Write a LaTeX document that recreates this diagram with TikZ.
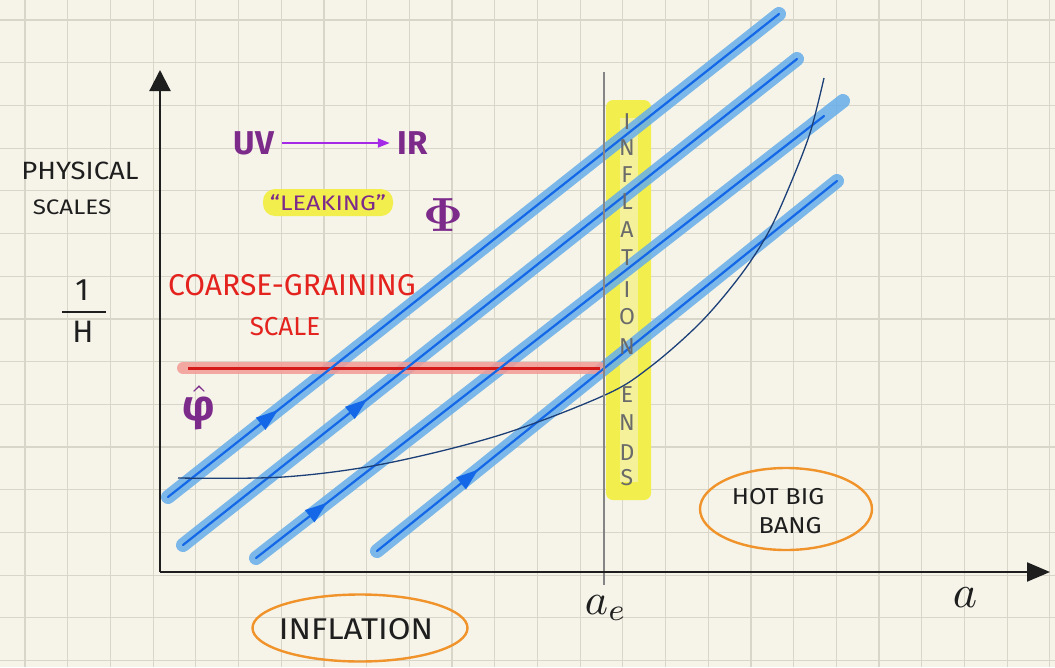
\documentclass[tikz,border=0pt]{standalone}
\usepackage{fontspec}
\setmainfont{Fira Sans}
\usepackage{amsmath}
\usetikzlibrary{decorations.markings,arrows.meta,shapes.geometric}
\definecolor{bg}{HTML}{F6F4E9}
\definecolor{gridc}{HTML}{D8D6C8}
\definecolor{purp}{HTML}{7D2B8B}
\definecolor{violetarrow}{HTML}{A52AE8}
\definecolor{redt}{HTML}{E4221E}
\definecolor{redline}{HTML}{D51A1A}
\definecolor{redglow}{HTML}{F29A95}
\definecolor{blueglow}{HTML}{66AEEA}
\definecolor{bluein}{HTML}{1467E6}
\definecolor{navy}{HTML}{1C3F78}
\definecolor{hlstrong}{HTML}{F2EE4E}
\definecolor{hllight}{HTML}{F4F19A}
\definecolor{orng}{HTML}{F0932A}
\definecolor{grayl}{HTML}{858585}
\definecolor{ink}{HTML}{1E1E1E}
\definecolor{lettergray}{HTML}{6A6A6A}
\begin{document}
\begin{tikzpicture}[x=1pt,y=-1pt,
  gridline/.style={gridc,line width=1.2pt},
  axisline/.style={ink,line width=2.2pt},
  bglow/.style={blueglow,line width=14pt,line cap=round,opacity=0.85},
  bin/.style={bluein,line width=2.2pt,line cap=round},
  arrowmark/.style={postaction={decorate},decoration={markings,
     mark=at position #1 with {\arrow{Triangle[length=22pt,width=15pt]}}}},
  blacktext/.style={ink,inner sep=0pt},
  purptext/.style={purp,inner sep=0pt,font=\bfseries},
  redtext/.style={redt,inner sep=0pt},
  vlet/.style={lettergray,inner sep=0pt,font=\fontsize{23}{23}\selectfont},
  oval/.style={ellipse,draw=orng,line width=2.4pt,inner sep=0pt}
]
\useasboundingbox (0,0) rectangle (1055,667);
\fill[bg] (0,0) rectangle (1055,667);
% grid
\foreach \i in {0,...,24} \draw[gridline] ({25+42.7*\i},0) -- ({25+42.7*\i},667);
\foreach \j in {0,...,15} \draw[gridline] (0,{20+42.7*\j}) -- (1055,{20+42.7*\j});

% yellow highlight
\fill[hlstrong,rounded corners=7pt] (606,100) rectangle (651,500);
\fill[hllight] (620,118) rectangle (638,482);

% leaking highlight
\fill[hlstrong,rounded corners=12pt] (263,189) rectangle (393,216);

% line coordinates
\coordinate (s1) at (168,497); \coordinate (e1) at (779,14);
\coordinate (s2) at (183,545); \coordinate (e2) at (797,59);
\coordinate (s3) at (256,558); \coordinate (e3) at (824,116); \coordinate (g3) at (843,101);
\coordinate (s4) at (377,551); \coordinate (e4) at (837,181);

% blue glows
\draw[bglow] (s1) -- (e1);
\draw[bglow] (s2) -- (e2);
\draw[bglow] (s3) -- (g3);
\draw[bglow] (s4) -- (e4);

% red coarse-graining line
\coordinate (r0) at (183,368); \coordinate (r1) at (600,368);
\draw[redglow,line width=12pt,line cap=round,opacity=0.85] (r0) -- (r1);
\draw[redline,line width=3pt] ([xshift=5pt]r0) -- (r1);

% blue inner lines
\draw[bin,arrowmark=0.18] (s1) -- (e1);
\draw[bin,arrowmark=0.30] (s2) -- (e2);
\draw[bin,arrowmark=0.125] (s3) -- (e3);
\draw[bin,arrowmark=0.22] (s4) -- (e4);

% curve
\draw[navy,line width=1.3pt] plot[smooth,tension=0.55] coordinates
 {(178,478) (283,477) (383,464) (500,435) (605,395) (650,367) (700,323) (740,276) (768,233) (790,185) (810,133) (824,78)};

% vertical line a_e
\coordinate (v0) at (604,72); \coordinate (v1) at (604,585);
\draw[grayl,line width=2pt] (v0) -- (v1);

% axes
\coordinate (O) at (160,572);
\coordinate (ytip) at (160,70);
\coordinate (xtip) at (1050,572);
\draw[axisline,-{Triangle[length=21pt,width=21pt]}] (O) -- (ytip);
\draw[axisline,-{Triangle[length=23pt,width=19pt]}] (O) -- (xtip);

% INFLATION ENDS letters
\foreach \ch/\yy [count=\k] in {I/122,N/148,F/175,L/202,A/230,T/258,I/290,O/317,N/347,E/395,N/423,D/453,S/478}
  \node[vlet] (v\k) at (627,\yy) {\ch};

% left labels
\node[blacktext,font=\fontsize{25}{25}\selectfont] (phys) at (80,171) {\scalebox{1.1}[1]{PHYSICAL}};
\node[blacktext,font=\fontsize{21}{21}\selectfont] (scales) at (72,207) {\scalebox{1.15}[1]{SCALES}};
\node[blacktext,font=\fontsize{31}{31}\selectfont] (one) at (82,290) {1};
\node[blacktext,font=\fontsize{31}{31}\selectfont] (hh) at (83,332) {H};
\coordinate (b0) at (62,312); \coordinate (b1) at (106,312);
\draw[ink,line width=2pt] (b0) -- (b1);

% purple labels
\node[purptext,font=\bfseries\fontsize{33}{33}\selectfont] (uv) at (254,143) {UV};
\node[purptext,font=\bfseries\fontsize{33}{33}\selectfont] (ir) at (413,143) {IR};
\draw[violetarrow,line width=2pt,-{Triangle[length=12pt,width=9pt]}] ([xshift=8pt]uv.east) -- ([xshift=-8pt]ir.west);
\node[purptext,font=\fontsize{21}{21}\selectfont] (leak) at (328,203) {\scalebox{1.2}[1]{“LEAKING”}};
\node[purptext] (phi) at (443,215) {\scalebox{4.8}{$\boldsymbol{\Phi}$}};
\node[purptext] (phihat) at (199,408) {\scalebox{4.3}{$\hat{\text{\bfseries φ}}$}};

% red labels
\node[redtext,font=\fontsize{30}{30}\selectfont] (cg) at (292,285) {COARSE-GRAINING};
\node[redtext,font=\fontsize{26}{26}\selectfont] (scale) at (285,327) {SCALE};

% axis labels
\node[blacktext] (aa) at (965,598) {\scalebox{4.6}{$a$}};
\node[blacktext] (ae) at (606,608) {\scalebox{4.4}{$a_e$}};

% ovals
\node[oval,minimum width=172pt,minimum height=82pt] (hbbov) at (786,509) {};
\node[blacktext,font=\fontsize{23}{23}\selectfont] (hot) at (778,497) {\scalebox{1.1}[1]{HOT BIG}};
\node[blacktext,font=\fontsize{23}{23}\selectfont] (bang) at (790,526) {\scalebox{1.1}[1]{BANG}};
\node[oval,minimum width=215pt,minimum height=67pt] (infov) at (360,628) {};
\node[blacktext,font=\fontsize{30}{30}\selectfont] (infl) at (356,629) {\scalebox{1.1}[1]{INFLATION}};
\end{tikzpicture}
\end{document}
